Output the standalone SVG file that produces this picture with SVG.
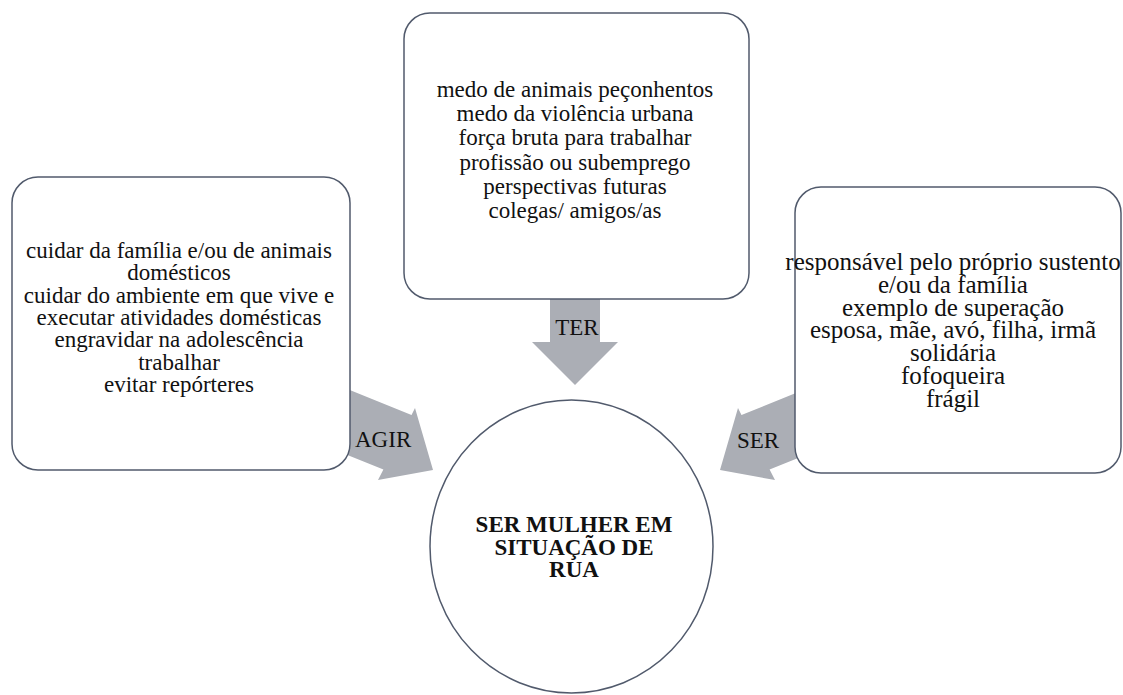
<svg xmlns="http://www.w3.org/2000/svg" width="1123" height="695" viewBox="0 0 1123 695">
  <style>
    .box { fill: #ffffff; stroke: #515a6c; stroke-width: 1.5; }
    .arrow { fill: #abaeb5; stroke: none; }
    text { font-family: "Liberation Serif", "Times New Roman", serif; font-size: 23px; fill: #111111; }
    .mid { text-anchor: middle; }
    .bold { font-weight: bold; }
    .big { font-size: 25px; }
  </style>

  <!-- block arrows pointing toward the central circle -->
  <g id="connectors">
    <polygon class="arrow" points="550,290 600,290 600,342 618,342 575,385 532,342 550,342"/>
    <polygon class="arrow" points="330,382 411.5,415 415,408 433,470 378,480 383.4,469.4 330,448"/>
    <polygon class="arrow" points="823,382 741.5,415 738,408 720,470 775,480 769.6,469.4 823,448"/>
  </g>

  <g id="node-ter">
    <rect class="box" x="404" y="13" width="345" height="286" rx="26" ry="26"/>
    <text class="mid" x="575" y="97">medo de animais peçonhentos</text>
    <text class="mid" x="575" y="121.2">medo da violência urbana</text>
    <text class="mid" x="575" y="145.4">força bruta para trabalhar</text>
    <text class="mid" x="575" y="169.6">profissão ou subemprego</text>
    <text class="mid" x="575" y="193.8">perspectivas futuras</text>
    <text class="mid" x="575" y="218">colegas/ amigos/as</text>
  </g>

  <g id="node-agir">
    <rect class="box" x="12" y="177" width="338" height="293" rx="26" ry="26"/>
    <text class="mid" x="179" y="258">cuidar da família e/ou de animais</text>
    <text class="mid" x="179" y="280.3">domésticos</text>
    <text class="mid" x="179" y="302.6">cuidar do ambiente em que vive e</text>
    <text class="mid" x="179" y="324.9">executar atividades domésticas</text>
    <text class="mid" x="179" y="347.2">engravidar na adolescência</text>
    <text class="mid" x="179" y="369.5">trabalhar</text>
    <text class="mid" x="179" y="391.8">evitar repórteres</text>
  </g>

  <g id="node-ser">
    <rect class="box" x="795" y="187" width="326" height="286" rx="26" ry="26"/>
    <text class="mid big" x="953" y="270">responsável pelo próprio sustento</text>
    <text class="mid big" x="953" y="292.8">e/ou da família</text>
    <text class="mid big" x="953" y="315.6">exemplo de superação</text>
    <text class="mid big" x="953" y="338.4">esposa, mãe, avó, filha, irmã</text>
    <text class="mid big" x="953" y="361.2">solidária</text>
    <text class="mid big" x="953" y="384">fofoqueira</text>
    <text class="mid big" x="953" y="406.8">frágil</text>
  </g>

  <g id="node-center">
    <ellipse class="box" cx="571.5" cy="546.5" rx="141.5" ry="146.5"/>
    <text class="mid bold" x="574" y="532">SER MULHER EM</text>
    <text class="mid bold" x="574" y="555">SITUAÇÃO DE</text>
    <text class="mid bold" x="574" y="577">RUA</text>
  </g>

  <!-- arrow labels -->
  <g id="labels">
    <text class="mid" x="577" y="335">TER</text>
    <text x="355" y="447">AGIR</text>
    <text x="737" y="448">SER</text>
  </g>
</svg>
